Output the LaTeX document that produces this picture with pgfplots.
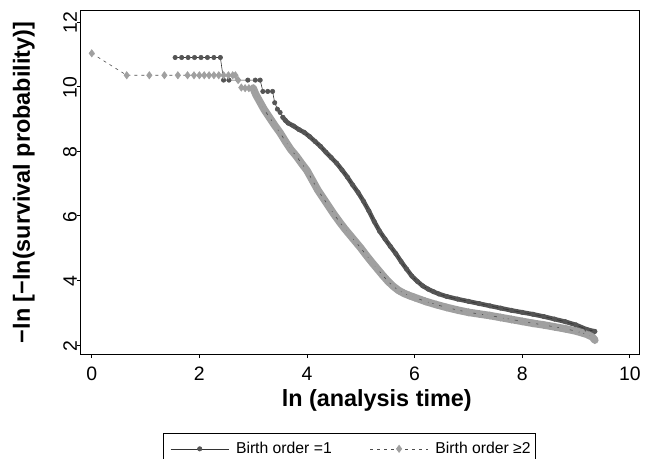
\documentclass[border=0pt]{standalone}
\usepackage{fontspec}
\setmainfont{Liberation Sans}
\usepackage{pgfplots}
\usepackage{pgfplotstable}
\pgfplotsset{compat=1.18}
\definecolor{darkser}{HTML}{555555}
\definecolor{lightser}{HTML}{A0A0A0}

\pgfplotstableread{
x y
1.55 10.9
1.67 10.9
1.79 10.9
1.91 10.9
2.03 10.9
2.15 10.9
2.27 10.9
2.39 10.9
2.45 10.2
2.55 10.2
2.72 10.2
2.9 10.2
3.04 10.2
3.13 10.2
3.18 9.85
3.27 9.85
3.36 9.85
3.4 9.5
3.45 9.3
3.5 9.2
3.55 9.05
3.6 8.95
3.65 8.87
3.75 8.78
3.85 8.67
3.95 8.58
4.05 8.45
4.15 8.3
4.25 8.15
4.35 7.97
4.45 7.8
4.55 7.63
4.65 7.42
4.75 7.2
4.85 6.95
4.95 6.72
5.05 6.45
5.15 6.15
5.25 5.82
5.35 5.52
5.45 5.28
5.55 5.05
5.65 4.83
5.75 4.58
5.85 4.35
5.95 4.13
6.05 3.97
6.15 3.83
6.25 3.73
6.35 3.65
6.45 3.58
6.6 3.5
6.8 3.42
7.0 3.35
7.2 3.28
7.4 3.21
7.6 3.14
7.8 3.07
8.0 3.01
8.2 2.95
8.4 2.88
8.6 2.8
8.8 2.72
9.0 2.62
9.2 2.48
9.35 2.42
}\darktab

\pgfplotstableread{
x y
0.0 11.03
0.65 10.35
1.07 10.35
1.35 10.35
1.6 10.35
1.78 10.35
1.9 10.35
2.0 10.35
2.09 10.35
2.18 10.35
2.27 10.35
2.36 10.35
2.45 10.35
2.54 10.35
2.62 10.35
2.67 10.35
2.72 10.2
2.78 9.97
2.85 9.95
2.92 9.95
3.0 9.95
3.05 9.75
3.1 9.6
3.15 9.45
3.2 9.3
3.3 9.05
3.4 8.8
3.5 8.57
3.6 8.3
3.7 8.05
3.8 7.85
3.9 7.62
4.0 7.4
4.1 7.1
4.2 6.8
4.3 6.55
4.4 6.3
4.5 6.05
4.6 5.82
4.7 5.6
4.8 5.4
4.9 5.2
5.0 5.0
5.1 4.78
5.2 4.57
5.3 4.37
5.4 4.17
5.5 3.98
5.6 3.82
5.7 3.69
5.8 3.6
5.9 3.53
6.0 3.47
6.2 3.35
6.4 3.25
6.6 3.16
6.8 3.08
7.0 3.01
7.2 2.96
7.4 2.91
7.6 2.85
7.8 2.79
8.0 2.73
8.2 2.67
8.4 2.62
8.6 2.56
8.8 2.5
9.0 2.43
9.2 2.33
9.3 2.25
9.35 2.15
}\lighttab

\begin{document}
\begin{tikzpicture}
\begin{axis}[
  at={(81bp,105bp)}, anchor=south west,
  scale only axis, width=558bp, height=343bp,
  xmin=-0.2, xmax=10.17, ymin=1.72, ymax=12.34,
  xtick={0,2,...,10}, ytick={2,4,...,12},
  xtick pos=lower, ytick pos=left, tick align=outside,
  major tick length=4bp,
  axis line style={line width=1bp},
  every tick/.style={black, line width=0.8bp},
  /pgf/number format/assume math mode=true,
  ticklabel style={font=\fontsize{19.5}{20}\selectfont},
  xticklabel style={anchor=north, inner sep=0pt, yshift=-9bp},
  yticklabel style={rotate=90, anchor=south, inner sep=0pt, xshift=-1bp},
  xlabel={ln (analysis time)},
  ylabel={\textminus ln [\textminus ln(survival probability)]},
  label style={font=\bfseries\fontsize{23.5}{25}\selectfont, inner sep=0pt},
  xlabel style={at={(axis description cs:0.53,-0.1545)}, anchor=base},
  ylabel style={at={(axis description cs:-0.0914,0.5)}, anchor=base},
  legend columns=2,
  legend cell align=left,
  legend style={at={(axis description cs:0.147,-0.2303)}, anchor=north west,
    draw=black, line width=0.8bp, font=\fontsize{15.8}{18}\selectfont,
    inner ysep=7bp,
    /tikz/every even column/.append style={column sep=32bp}},
]
\addplot[darkser, line width=4.5bp, line join=round, line cap=round, forget plot,
  restrict x to domain=3.55:10] table {\darktab};
\addplot[draw=black!80, line width=0.6bp, mark=*, mark size=2.2bp,
  mark options={solid, fill=darkser, draw=darkser},
  legend image code/.code={\path (-4bp,0bp) (63bp,0bp); \draw[mark repeat=2, mark phase=2] plot coordinates {(0bp,0bp) (29bp,0bp) (58bp,0bp)};}]
  table {\darktab};
\addlegendentry{Birth order =1}
\addplot[lightser, line width=7.5bp, line join=round, line cap=round, forget plot,
  restrict x to domain=3.0:10] table {\lighttab};
\addplot[draw=black!70, line width=0.6bp, dash pattern=on 3bp off 4bp, mark=diamond*, mark size=3.6bp,
  mark options={solid, fill=lightser, draw=lightser},
  legend image code/.code={\path (-4bp,0bp) (63bp,0bp); \draw[mark repeat=2, mark phase=2] plot coordinates {(0bp,0bp) (29bp,0bp) (58bp,0bp)};}]
  table {\lighttab};
\addlegendentry{Birth order \char"2265 2}
\end{axis}
\pgfresetboundingbox
\path[use as bounding box] (0,0) rectangle (652bp,459bp);
\end{tikzpicture}
\end{document}
